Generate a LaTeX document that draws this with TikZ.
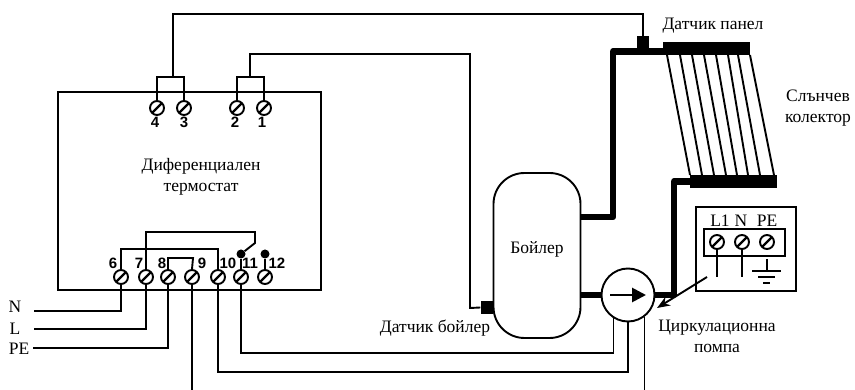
\documentclass[tikz,border=0pt]{standalone}
\usepackage{fontspec}
\setmainfont{Liberation Serif}
\newfontfamily\numfont{Liberation Sans}
\usetikzlibrary{arrows.meta}
\usetikzlibrary{positioning}

\tikzset{
wire/.style={line width=1.9pt,line join=miter},
pipe/.style={line width=6.5pt,line join=round},
clamp/.style={circle,draw,line width=1.9pt,minimum size=14pt,inner sep=0pt,path picture={\draw[line width=2.2pt] (path picture bounding box.south west) -- (path picture bounding box.north east);}},
num/.style={font=\numfont\bfseries\fontsize{15}{15}\selectfont,inner sep=0pt},
lbl/.style={font=\fontsize{17.5}{21}\selectfont,inner sep=0pt,align=center},
bar/.style={fill=black,inner sep=0pt},
sensor/.style={fill=black,inner sep=0pt},
dot/.style={circle,fill=black,inner sep=0pt,minimum size=9pt}
}

\begin{document}
\begin{tikzpicture}[x=1pt,y=-1pt]
\useasboundingbox (0,0) rectangle (855,390);

% thermostat
\node[draw,line width=1.9pt,minimum width=263pt,minimum height=198pt,inner sep=0pt] (thermo) at (189.5,191) {};
\node[lbl] (thermotext) at (201,177) {Диференциален\\термостат};

\foreach \n/\x/\lx in {4/157/155,3/184/184,2/237/235,1/264/262} {
\node[clamp] (t\n) at (\x,108) {};
\node[num] (n\n) at (\lx,122.5) {\n};
}
\foreach \n/\x/\lx in {6/121/113,7/146/139,8/168/162,9/192/202,10/218/228,11/241/250,12/265/277} {
\node[clamp] (t\n) at (\x,277) {};
\node[num] (n\n) at (\lx,263) {\n};
}

% upper wires
\coordinate (ja) at (173,77);
\coordinate (jb) at (250,77);
\draw[wire] (t4.north) |- (ja) -| (t3.north);
\draw[wire] (t2.north) |- (jb) -| (t1.north);

% collector
\node[bar,minimum width=87pt,minimum height=13pt] (bara) at (706.5,48.5) {};
\node[bar,minimum width=87pt,minimum height=13pt] (barb) at (733.5,181.5) {};
\foreach \a/\b in {667/690,680/702,692/714,704/726,716/737,728/748,738/760,750/774} {
\draw[wire] (\a,55) -- (\b,175);
}
\node[lbl] (paneltext) at (713,26) {Датчик панел};
\node[lbl] (soltext) at (818,108.5) {Слънчев\\колектор};

% boiler and pump
\node[draw,line width=1.9pt,rounded corners=31pt,minimum width=87pt,minimum height=165pt,inner sep=0pt] (boiler) at (537,255.5) {};
\node[lbl] (boilertext) at (537,249) {Бойлер};
\node[draw,circle,line width=1.9pt,minimum size=53pt,inner sep=0pt] (pump) at (628,295) {};
\node[lbl] (pumptext) at (717,336) {Циркулационна\\помпа};
\coordinate (arra) at (610,295);
\coordinate (arrb) at (646,295);
\draw[line width=2.8pt,-{Triangle[length=14pt,width=14pt]}] (arra) -- (arrb);

\draw[pipe] (boiler.east |- 0,217) -| (613,51.5) -- (bara.west |- 0,51.5);
\draw[pipe] (barb.west) -| (674,295) -- (pump.east);
\draw[pipe] (boiler.east |- pump.west) -- (pump.west);

% sensors
\node[sensor,minimum width=12pt,minimum height=13pt] (spanel) at (643,43) {};
\node[sensor,minimum width=12pt,minimum height=13pt] (sboiler) at (486.5,307.5) {};
\node[lbl] (sboilertext) at (435,328) {Датчик бойлер};
\coordinate (wa) at (173,14);
\coordinate (wb) at (250,54);
\coordinate (wc) at (470,308);
\draw[wire] (ja) -- (wa) -| (spanel.north);
\draw[wire] (jb) -- (wb) -| (wc) -- (sboiler.west);

% contact
\node[dot] (ca) at (241,254) {};
\node[dot] (cb) at (265,254) {};
\coordinate (sw) at (255,243);
\coordinate (swt) at (255,232);
\coordinate (bra) at (121,249);
\coordinate (brb) at (218,249);
\coordinate (brc) at (169,258);
\coordinate (brd) at (193,258);
\draw[wire] (t6.north) -- (bra) -- (brb) -- (t10.north);
\draw[wire] (t7.north) |- (swt) -- (sw) -- (ca);
\draw[wire] (t8.north) |- (brc) -- (brd) -- (t9.north);
\draw[wire] (ca) -- (t11.north);
\draw[wire] (cb) -- (t12.north);

% mains
\node[lbl] (ntext) at (15,307) {N};
\node[lbl] (ltext) at (15,329) {L};
\node[lbl] (petext) at (19,349) {PE};
\coordinate (na) at (34,311);
\coordinate (la) at (34,329);
\coordinate (pea) at (33,348);
\draw[wire] (t6.south) |- (na);
\draw[wire] (t7.south) |- (la);
\draw[wire] (t8.south) |- (pea);

% to pump
\coordinate (wd) at (241,353);
\coordinate (we) at (219,372);
\coordinate (wf) at (193,390);
\coordinate (wg) at (644,390);
\draw[wire] (t11.south) -- (t11.south |- wd) -| (pump.238);
\draw[wire] (t10.south) -- (t10.south |- we) -| (pump.south);
\draw[wire] (t9.south) -- (t9.south |- wf);
\draw[wire] (pump.307) -- (pump.307 |- wg);

% pump terminals
\node[draw,line width=1.9pt,minimum width=100pt,minimum height=84pt,inner sep=0pt] (panel) at (746,249) {};
\node[draw,line width=1.9pt,minimum width=81pt,minimum height=27pt,inner sep=0pt] (strip) at (744.5,242.5) {};
\foreach \n/\x/\lx/\txt in {a/717/720/L1,b/742/741/N,c/767/767/PE} {
\node[clamp] (p\n) at (\x,242) {};
\node[lbl] (pt\n) at (\lx,220.5) {\txt};
}
\coordinate (ga) at (717,277);
\coordinate (gb) at (742,277);
\coordinate (gc) at (767,271);
\coordinate (gd) at (767,259);
\draw[wire] (pa.south) -- (ga);
\draw[wire] (pb.south) -- (gb);
\draw[wire] (gd) -- (gc);
\draw[wire] (752,271) -- (781,271);
\draw[wire] (758,277) -- (775,277);
\draw[wire] (763,283) -- (770,283);

\coordinate (parr) at (707,277);
\coordinate (parrb) at (657,308);
\draw[wire,-{Stealth[length=13pt,width=10pt]}] (parr) -- (parrb);
\end{tikzpicture}
\end{document}
